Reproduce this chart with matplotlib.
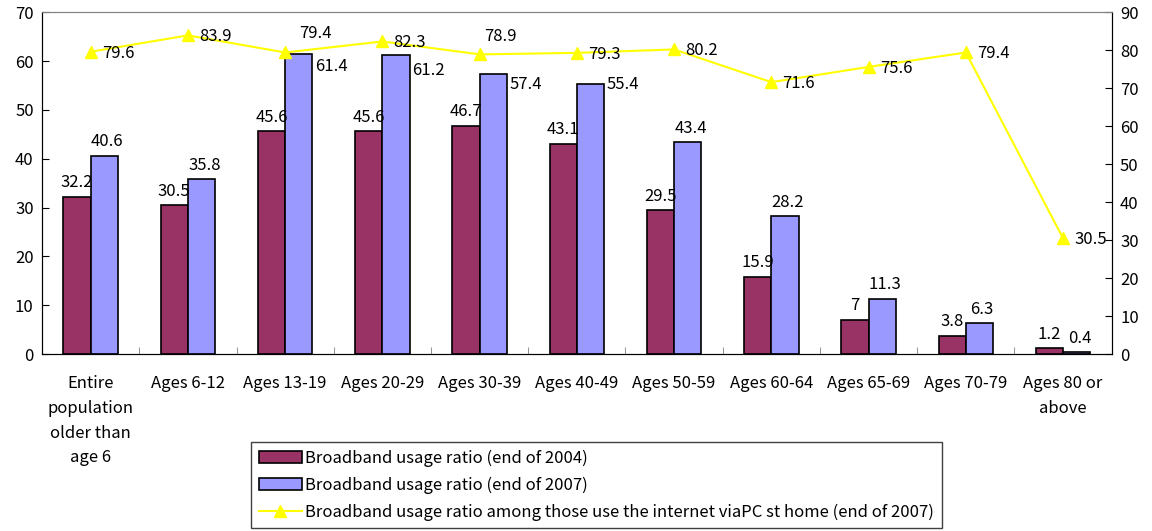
import numpy as np
import matplotlib
matplotlib.use("Agg")
import matplotlib.pyplot as plt

plt.rcParams['font.family'] = ['Noto Sans CJK JP', 'DejaVu Sans']

# データ
categories = ["Entire\npopulation\nolder than\nage 6", "Ages 6-12", "Ages 13-19", "Ages 20-29",
              "Ages 30-39", "Ages 40-49", "Ages 50-59", "Ages 60-64", "Ages 65-69",
              "Ages 70-79", "Ages 80 or\nabove"]
ratio_2004 = [32.2, 30.5, 45.6, 45.6, 46.7, 43.1, 29.5, 15.9, 7, 3.8, 1.2]
ratio_2007 = [40.6, 35.8, 61.4, 61.2, 57.4, 55.4, 43.4, 28.2, 11.3, 6.3, 0.4]
ratio_pc_home = [79.6, 83.9, 79.4, 82.3, 78.9, 79.3, 80.2, 71.6, 75.6, 79.4, 30.5]
labels = ["Broadband usage ratio (end of 2004)",
          "Broadband usage ratio (end of 2007)",
          "Broadband usage ratio among those use the internet viaPC st home (end of 2007)"]

c_2004 = '#993366'
c_2007 = '#9999FF'
c_line = '#FFFF00'

fig = plt.figure(figsize=(11.52, 5.31), dpi=100)
ax = fig.add_axes([0.0365, 0.333, 0.9285, 0.644])
ax2 = ax.twinx()

x = np.arange(len(categories))
w = 0.28
b1 = ax.bar(x - w / 2, ratio_2004, w, color=c_2004, edgecolor='black', linewidth=1.2,
            label=labels[0], zorder=2)
b2 = ax.bar(x + w / 2, ratio_2007, w, color=c_2007, edgecolor='black', linewidth=1.2,
            label=labels[1], zorder=2)
ln, = ax2.plot(x, ratio_pc_home, color=c_line, marker='^', markersize=9, linewidth=1.5,
               label=labels[2])

fs = 12
# 棒グラフのラベル
for i, v in enumerate(ratio_2004):
    ax.annotate(f"{v:g}", (x[i] - w / 2, v), xytext=(0, 4), textcoords='offset points',
                ha='center', va='bottom', fontsize=fs)
right_side = {2: 9, 3: 11, 4: 8, 5: 1}  # 棒の右側に置くラベル (下方向オフセット px)
for i, v in enumerate(ratio_2007):
    if i in right_side:
        ax.annotate(f"{v:g}", (x[i] + w, v), xytext=(2, -right_side[i]), textcoords='offset points',
                    ha='left', va='center', fontsize=fs)
    else:
        ax.annotate(f"{v:g}", (x[i] + w / 2, v), xytext=(2, 4), textcoords='offset points',
                    ha='center', va='bottom', fontsize=fs)
# 折れ線のラベル
for i, v in enumerate(ratio_pc_home):
    if i in (2, 4):
        off = (10, 14) if i == 2 else (3, 13)
    else:
        off = (8, -1)
    ax2.annotate(f"{v:g}", (x[i], v), xytext=off, textcoords='offset points',
                 ha='left', va='center', fontsize=fs)

ax.set_xlim(-0.5, len(categories) - 0.5)
ax.set_ylim(0, 70)
ax.set_yticks(range(0, 71, 10))
ax2.set_ylim(0, 90)
ax2.set_yticks(range(0, 91, 10))

ax.set_xticks(x)
ax.set_xticklabels(categories, fontsize=fs, linespacing=1.6)
ax.set_xticks(np.arange(0.5, len(categories) - 1, 1), minor=True)
ax.tick_params(axis='x', which='major', length=0, pad=15)
ax.tick_params(axis='x', which='minor', direction='in', length=5, color='#808080')
ax.tick_params(axis='y', direction='in', length=5, labelsize=fs, pad=6)
ax2.tick_params(axis='y', direction='in', length=5, labelsize=fs, pad=6)

for a in (ax, ax2):
    a.spines['top'].set_color('#808080')
    a.spines['left'].set_color('black')
    a.spines['right'].set_color('black')
    a.spines['bottom'].set_color('black')

leg = fig.legend(handles=[b1, b2, ln], loc='upper left', bbox_to_anchor=(0.218, 0.168),
                 fontsize=fs, frameon=True, fancybox=False, framealpha=1, edgecolor='#404040',
                 handlelength=2.6, handletextpad=0.2, labelspacing=0.6, borderpad=0.45,
                 borderaxespad=0)
leg.get_frame().set_linewidth(1.0)

fig.savefig('out.png', dpi=100)
